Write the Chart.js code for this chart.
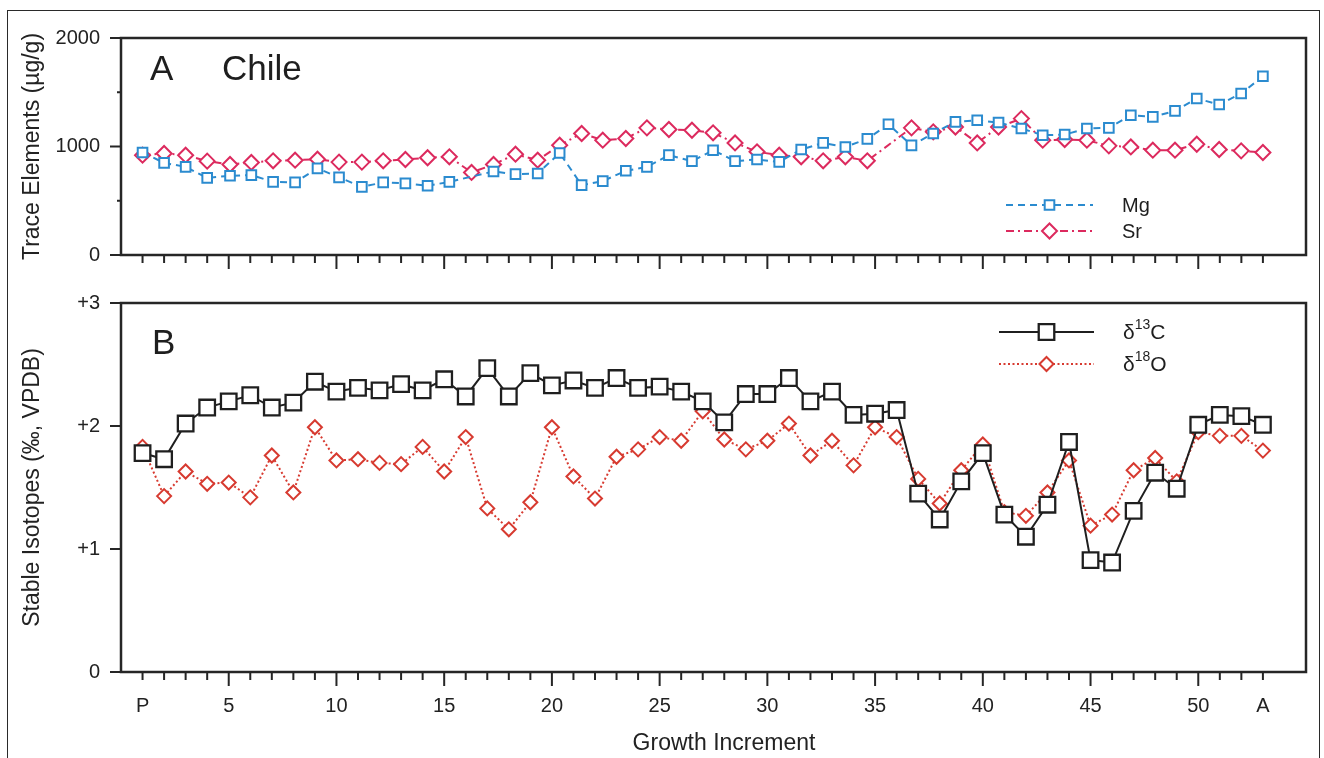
<!DOCTYPE html>
<html>
<head>
<meta charset="utf-8">
<script src="https://cdn.jsdelivr.net/npm/chart.js@4.4.1/dist/chart.umd.min.js"></script>
<style>
  body { margin: 0; background: #fff; width: 1324px; height: 758px; overflow: hidden; position: relative; }
  .frame { position: absolute; left: 7px; top: 10px; width: 1311px; height: 800px; border: 1.5px solid #2a2a2a; }
  .panel { position: absolute; left: 0; }
</style>
</head>
<body>
<div class="frame"></div>
<canvas id="traceCanvas" class="panel" width="1324" height="300" style="top:0"></canvas>
<canvas id="isoCanvas" class="panel" width="1324" height="488" style="top:270px"></canvas>
<script>
// growth increments (P = 1, A = 53)
const increments = [1, 2, 3, 4, 5, 6, 7, 8, 9, 10, 11, 12, 13, 14, 15, 16, 17, 18, 19, 20,
  21, 22, 23, 24, 25, 26, 27, 28, 29, 30, 31, 32, 33, 34, 35, 36, 37, 38, 39, 40,
  41, 42, 43, 44, 45, 46, 47, 48, 49, 50, 51, 52, 53];
const tickNames = { 1: 'P', 53: 'A' };

// trace element samples sit on their own spacing
const sampleX = [1.0, 2.0, 3.0, 4.0, 5.06, 6.05, 7.06, 8.08, 9.12, 10.12, 11.18, 12.17, 13.2,
  14.23, 15.24, 16.27, 17.29, 18.31, 19.34, 20.36, 21.38, 22.36, 23.43, 24.41, 25.43, 26.5,
  27.48, 28.5, 29.52, 30.55, 31.57, 32.59, 33.62, 34.64, 35.62, 36.69, 37.7, 38.73, 39.74,
  40.73, 41.79, 42.78, 43.8, 44.83, 45.85, 46.87, 47.89, 48.92, 49.93, 50.97, 51.99, 53.0];
const mgValues = [945, 849, 812, 711, 730, 736, 674, 669, 798, 715, 628, 669, 660,
  638, 674, null, 770, 745, 751, 940, 644, 681, 776, 812, 920, 865,
  966, 865, 880, 858, 972, 1033, 996, 1070, 1205, 1010, 1120, 1227, 1242,
  1221, 1166, 1104, 1110, 1166, 1172, 1288, 1273, 1328, 1442, 1387, 1488, 1647];
const srValues = [920, 936, 920, 865, 834, 853, 868, 874, 883, 856, 856, 868, 880,
  896, 905, 761, 834, 929, 874, 1012, 1120, 1058, 1074, 1172, 1157, 1150,
  1126, 1033, 951, 920, 905, 868, 905, 868, null, 1172, 1135, 1180, 1033,
  1180, 1257, 1058, 1064, 1058, 1006, 996, 966, 966, 1021, 972, 960, 945];

// stable isotopes, one per increment
const d13CValues = [1.78, 1.73, 2.02, 2.15, 2.20, 2.25, 2.15, 2.19, 2.36, 2.28,
  2.31, 2.29, 2.34, 2.29, 2.38, 2.24, 2.47, 2.24, 2.43, 2.33,
  2.37, 2.31, 2.39, 2.31, 2.32, 2.28, 2.20, 2.03, 2.26, 2.26,
  2.39, 2.20, 2.28, 2.09, 2.10, 2.13, 1.45, 1.24, 1.55, 1.78,
  1.28, 1.10, 1.36, 1.87, 0.91, 0.89, 1.31, 1.62, 1.49, 2.01,
  2.09, 2.08, 2.01];
const d18OValues = [1.83, 1.43, 1.63, 1.53, 1.54, 1.42, 1.76, 1.46, 1.99, 1.72,
  1.73, 1.70, 1.69, 1.83, 1.63, 1.91, 1.33, 1.16, 1.38, 1.99,
  1.59, 1.41, 1.75, 1.81, 1.91, 1.88, 2.12, 1.89, 1.81, 1.88,
  2.02, 1.76, 1.88, 1.68, 1.99, 1.91, 1.57, 1.37, 1.64, 1.85,
  1.30, 1.27, 1.46, 1.72, 1.19, 1.28, 1.64, 1.74, 1.55, 1.95,
  1.92, 1.92, 1.80];

const traceTicks = [0, 1000, 2000];
const traceMinorTicks = [500, 1500];
const isoTicks = [0, 1, 2, 3];

const FONT = "'Liberation Sans', Arial, sans-serif";
const INK = '#262626';
const MG_BLUE = '#2b8bcf';
const SR_RED = '#dc2a5e';
const O_RED = '#d73a30';

Chart.defaults.font.family = FONT;
Chart.defaults.font.size = 20;
Chart.defaults.color = '#222';

function pairs(xs, ys) {
  return xs.map((x, i) => ({ x: x, y: ys[i] }));
}

function drawMarker(ctx, style, x, y, r, color, lw) {
  ctx.beginPath();
  if (style === 'rect') {
    let s = r * Math.SQRT1_2;
    ctx.rect(x - s, y - s, 2 * s, 2 * s);
  } else {
    ctx.moveTo(x - r, y);
    ctx.lineTo(x, y - r);
    ctx.lineTo(x + r, y);
    ctx.lineTo(x, y + r);
    ctx.closePath();
  }
  ctx.fillStyle = '#fff';
  ctx.fill();
  ctx.setLineDash([]);
  ctx.lineWidth = lw;
  ctx.strokeStyle = color;
  ctx.stroke();
}

// label like "δ13C" -> δ + superscript 13 + C
function drawLabel(ctx, text, x, y, size) {
  ctx.fillStyle = '#1e1e1e';
  ctx.textBaseline = 'middle';
  ctx.textAlign = 'left';
  let m = text.match(/^(\D+)(\d+)(\D+)$/);
  ctx.font = size + 'px ' + FONT;
  if (!m) {
    ctx.fillText(text, x, y);
    return;
  }
  ctx.fillText(m[1], x, y);
  x += ctx.measureText(m[1]).width;
  ctx.font = Math.round(size * 0.68) + 'px ' + FONT;
  ctx.fillText(m[2], x, y - size * 0.38);
  x += ctx.measureText(m[2]).width;
  ctx.font = size + 'px ' + FONT;
  ctx.fillText(m[3], x, y);
}

const panelDecor = {
  id: 'panelDecor',
  afterDraw(chart, args, opts) {
    const { ctx, chartArea: a } = chart;
    const xs = chart.scales.x, ys = chart.scales.y;
    ctx.save();
    ctx.strokeStyle = INK;
    ctx.lineWidth = 2;
    ctx.beginPath();
    increments.forEach(v => {
      let px = xs.getPixelForValue(v);
      let len = v % 5 === 0 ? 14 : 8;
      ctx.moveTo(px, a.bottom);
      ctx.lineTo(px, a.bottom + len);
    });
    opts.majorY.forEach(v => {
      let py = ys.getPixelForValue(v);
      ctx.moveTo(a.left, py);
      ctx.lineTo(a.left - 11, py);
    });
    opts.minorY.forEach(v => {
      let py = ys.getPixelForValue(v);
      ctx.moveTo(a.left, py);
      ctx.lineTo(a.left - 4, py);
    });
    ctx.stroke();
    ctx.lineWidth = 2.5;
    ctx.strokeRect(a.left, a.top, a.right - a.left, a.bottom - a.top);

    ctx.fillStyle = '#1e1e1e';
    ctx.font = '35px ' + FONT;
    ctx.textBaseline = 'alphabetic';
    ctx.textAlign = 'left';
    opts.tags.forEach(t => ctx.fillText(t.text, t.x, t.y));

    if (opts.xTitle) {
      ctx.font = '23px ' + FONT;
      ctx.fillStyle = '#222';
      ctx.textAlign = 'center';
      ctx.textBaseline = 'middle';
      ctx.fillText(opts.xTitle.text, opts.xTitle.x, opts.xTitle.y);
    }

    const lg = opts.legend;
    chart.data.datasets.forEach((ds, i) => {
      let y = lg.rows[i];
      ctx.strokeStyle = ds.borderColor;
      ctx.lineWidth = ds.borderWidth;
      ctx.setLineDash(ds.borderDash || []);
      ctx.beginPath();
      ctx.moveTo(lg.x1, y);
      ctx.lineTo(lg.x2, y);
      ctx.stroke();
      drawMarker(ctx, ds.pointStyle, (lg.x1 + lg.x2) / 2, y, ds.pointRadius, ds.pointBorderColor, ds.pointBorderWidth);
      drawLabel(ctx, ds.label, lg.textX, y + 1, lg.size);
    });
    ctx.restore();
  }
};

function yAxis(min, max, ticks, label, fmt) {
  return {
    min: min, max: max,
    grid: { display: false, drawTicks: false },
    border: { display: false },
    afterBuildTicks: s => { s.ticks = ticks.map(v => ({ value: v })); },
    afterFit: s => { s.width = 121; },
    ticks: { padding: 21, callback: fmt },
    title: { display: true, text: label, font: { size: 23 }, color: '#222', padding: { top: 19, bottom: 0 } }
  };
}

new Chart(document.getElementById('traceCanvas'), {
  type: 'line',
  data: {
    datasets: [{
      label: 'Mg',
      data: pairs(sampleX, mgValues),
      borderColor: MG_BLUE,
      borderWidth: 2,
      borderDash: [7, 5],
      pointStyle: 'rect',
      pointRadius: 6.8,
      pointBorderWidth: 2,
      pointBorderColor: MG_BLUE,
      pointBackgroundColor: '#fff',
      spanGaps: true,
      tension: 0,
      fill: false
    }, {
      label: 'Sr',
      data: pairs(sampleX, srValues),
      borderColor: SR_RED,
      borderWidth: 2,
      borderDash: [8, 4, 2, 4],
      pointStyle: 'rectRot',
      pointRadius: 7.5,
      pointBorderWidth: 2,
      pointBorderColor: SR_RED,
      pointBackgroundColor: '#fff',
      spanGaps: true,
      tension: 0,
      fill: false
    }]
  },
  options: {
    responsive: false,
    animation: false,
    devicePixelRatio: 1,
    layout: { autoPadding: false, padding: { left: 0, right: 18, top: 38, bottom: 45 } },
    plugins: {
      legend: { display: false },
      tooltip: { enabled: false },
      panelDecor: {
        majorY: traceTicks,
        minorY: traceMinorTicks,
        tags: [{ text: 'A', x: 150, y: 80 }, { text: 'Chile', x: 222, y: 80 }],
        legend: { x1: 1006, x2: 1093, textX: 1122, rows: [205, 231], size: 20 }
      }
    },
    scales: {
      x: { type: 'linear', min: 0, max: 55, display: false },
      y: yAxis(0, 2000, traceTicks, 'Trace Elements (µg/g)', v => String(v))
    }
  },
  plugins: [panelDecor]
});

new Chart(document.getElementById('isoCanvas'), {
  type: 'line',
  data: {
    datasets: [{
      label: 'δ13C',
      data: pairs(increments, d13CValues),
      borderColor: '#1f1f1f',
      borderWidth: 2,
      pointStyle: 'rect',
      pointRadius: 11,
      pointBorderWidth: 2.3,
      pointBorderColor: '#1f1f1f',
      pointBackgroundColor: '#fff',
      tension: 0,
      fill: false
    }, {
      label: 'δ18O',
      data: pairs(increments, d18OValues),
      borderColor: O_RED,
      borderWidth: 2,
      borderDash: [2, 2.5],
      pointStyle: 'rectRot',
      pointRadius: 7,
      pointBorderWidth: 2,
      pointBorderColor: O_RED,
      pointBackgroundColor: '#fff',
      tension: 0,
      fill: false
    }]
  },
  options: {
    responsive: false,
    animation: false,
    devicePixelRatio: 1,
    layout: { autoPadding: false, padding: { left: 0, right: 18, top: 32, bottom: 0 } },
    plugins: {
      legend: { display: false },
      tooltip: { enabled: false },
      panelDecor: {
        majorY: isoTicks,
        minorY: [],
        tags: [{ text: 'B', x: 152, y: 84 }],
        xTitle: { text: 'Growth Increment', x: 724, y: 474 },
        legend: { x1: 999, x2: 1094, textX: 1123, rows: [62, 94], size: 21 }
      }
    },
    scales: {
      x: {
        type: 'linear', min: 0, max: 55,
        grid: { display: false, drawTicks: false },
        border: { display: false },
        afterBuildTicks: s => { s.ticks = increments.map(v => ({ value: v })); },
        afterFit: s => { s.height = 86; },
        ticks: {
          autoSkip: false, maxRotation: 0, padding: 22,
          callback: v => tickNames[v] || (v % 5 === 0 ? String(v) : '')
        }
      },
      y: yAxis(0, 3, isoTicks, 'Stable Isotopes (‰, VPDB)', v => (v === 0 ? '0' : '+' + v))
    }
  },
  plugins: [panelDecor]
});
</script>
</body>
</html>
